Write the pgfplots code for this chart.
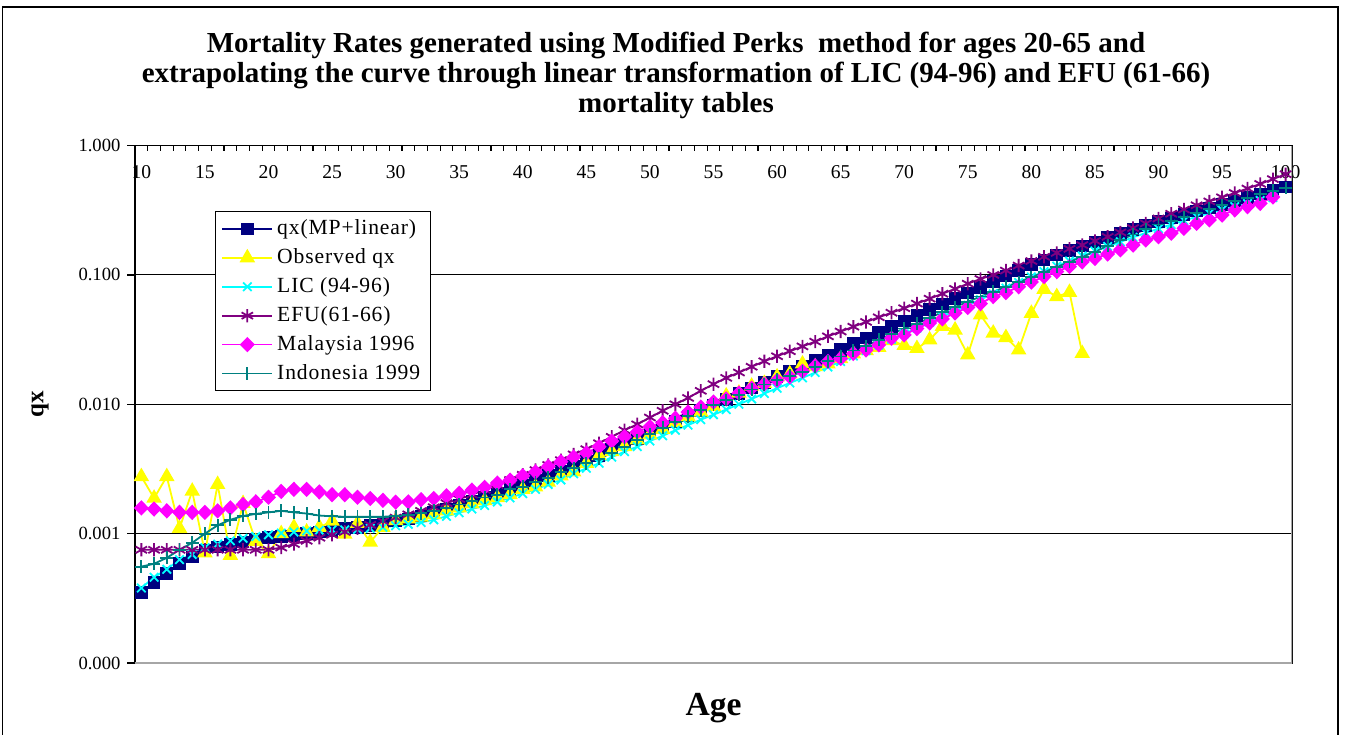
\documentclass[border=0pt]{standalone}
\usepackage{fontspec}
\setmainfont{Liberation Serif}
\newfontfamily\legfont{Liberation Serif}[LetterSpace=4]
\usepackage{pgfplots}
\pgfplotsset{compat=1.18}
\usepackage{pgfplotstable}

\definecolor{mpnavy}{HTML}{000080}
\definecolor{obsyel}{HTML}{FFFF00}
\definecolor{liccyan}{HTML}{00FFFF}
\definecolor{efupur}{HTML}{800080}
\definecolor{malmag}{HTML}{FF00FF}
\definecolor{indteal}{HTML}{008080}

\pgfplotstableread{
age mp obs lic efu mal ind
10 0.00035 0.00276 0.00038 0.00075 0.00158 0.000556
11 0.00042 0.00188 0.00046 0.00075 0.00155 0.000585
12 0.00049 0.00276 0.00053 0.00075 0.00150 0.00065
13 0.00059 0.00110 0.00063 0.00075 0.00146 0.00075
14 0.00066 0.00213 0.00069 0.00075 0.00146 0.00085
15 0.00074 0.00071 0.00078 0.00075 0.00146 0.00100
16 0.00079 0.00240 0.00083 0.00075 0.00150 0.00116
17 0.00082 0.00068 0.00088 0.00075 0.00158 0.00128
18 0.00086 0.00171 0.00092 0.00075 0.00168 0.00137
19 0.00090 0.00087 0.00095 0.00075 0.00176 0.00142
20 0.00093 0.00070 0.00098 0.00075 0.00191 0.00146
21 0.00095 0.00100 0.00101 0.00078 0.00212 0.00150
22 0.00097 0.00112 0.00103 0.00083 0.00220 0.00146
23 0.00100 0.00103 0.00105 0.00088 0.00220 0.00143
24 0.00103 0.00112 0.00106 0.00093 0.00210 0.00138
25 0.00106 0.00125 0.00107 0.00098 0.00200 0.00136
26 0.00109 0.00099 0.00107 0.00103 0.00200 0.00135
27 0.00112 0.00120 0.00108 0.00110 0.00191 0.00135
28 0.00116 0.00086 0.00110 0.00117 0.00187 0.00135
29 0.00120 0.00112 0.00112 0.00125 0.00181 0.00135
30 0.00125 0.00126 0.00115 0.00133 0.00175 0.00137
31 0.00130 0.00130 0.00118 0.00141 0.00176 0.00140
32 0.00137 0.00134 0.00122 0.00150 0.00183 0.00144
33 0.00145 0.00140 0.00128 0.00160 0.00187 0.00150
34 0.00155 0.00150 0.00136 0.00172 0.00196 0.00158
35 0.00165 0.00158 0.00145 0.00185 0.00205 0.00168
36 0.00177 0.00170 0.00155 0.00200 0.00217 0.00178
37 0.00190 0.00180 0.00165 0.00218 0.00228 0.00190
38 0.00205 0.00190 0.00176 0.00238 0.00246 0.00200
39 0.00220 0.00200 0.00189 0.00260 0.00259 0.00220
40 0.00238 0.00220 0.00204 0.00285 0.00280 0.00230
41 0.00258 0.00230 0.00220 0.00310 0.00300 0.00250
42 0.00280 0.00250 0.00240 0.00340 0.00330 0.00270
43 0.00304 0.00280 0.00260 0.00370 0.00360 0.00300
44 0.00330 0.00300 0.00290 0.00410 0.00390 0.00320
45 0.00365 0.00350 0.00320 0.00450 0.00420 0.00350
46 0.00403 0.00400 0.00350 0.00500 0.00470 0.00380
47 0.00445 0.00430 0.00390 0.00560 0.00520 0.00420
48 0.00492 0.00470 0.00430 0.00630 0.00560 0.00470
49 0.00544 0.00530 0.00470 0.00700 0.00610 0.00530
50 0.00601 0.00580 0.00520 0.00790 0.00670 0.00590
51 0.00664 0.00640 0.00570 0.00890 0.00720 0.00660
52 0.00734 0.00720 0.00630 0.01000 0.00780 0.00730
53 0.00811 0.00800 0.00690 0.01120 0.00870 0.00810
54 0.00896 0.00870 0.00760 0.01270 0.00950 0.00900
55 0.00990 0.00960 0.00830 0.01430 0.01040 0.00990
56 0.01094 0.01160 0.00910 0.01600 0.01100 0.01080
57 0.01209 0.01220 0.01000 0.01760 0.01220 0.01180
58 0.01336 0.01380 0.01100 0.01950 0.01330 0.01300
59 0.01476 0.01450 0.01210 0.02150 0.01430 0.01420
60 0.01631 0.01630 0.01330 0.02350 0.01530 0.01550
61 0.01790 0.01720 0.01460 0.02570 0.01630 0.01660
62 0.01970 0.02050 0.01600 0.02800 0.01800 0.01780
63 0.02170 0.01950 0.01760 0.03050 0.01980 0.01940
64 0.02400 0.02050 0.01940 0.03350 0.02140 0.02150
65 0.02660 0.02250 0.02140 0.03650 0.02260 0.02340
66 0.02950 0.02450 0.02360 0.03980 0.02470 0.02600
67 0.03260 0.02600 0.02600 0.04330 0.02630 0.02820
68 0.03600 0.02750 0.02870 0.04700 0.02880 0.03150
69 0.03980 0.03100 0.03170 0.05100 0.03240 0.03500
70 0.04400 0.02850 0.03500 0.05530 0.03440 0.03850
71 0.04870 0.02700 0.03880 0.06000 0.03850 0.04200
72 0.05380 0.03150 0.04300 0.06550 0.04250 0.04650
73 0.05950 0.04000 0.04760 0.07150 0.04570 0.05150
74 0.06580 0.03750 0.05270 0.07800 0.05080 0.05650
75 0.07270 0.02410 0.05830 0.08550 0.05600 0.06200
76 0.08030 0.04900 0.06450 0.09300 0.06000 0.06800
77 0.08870 0.03550 0.07140 0.10000 0.06800 0.07400
78 0.09800 0.03280 0.07900 0.10800 0.07300 0.08100
79 0.10830 0.02630 0.08730 0.11800 0.08100 0.08800
80 0.11970 0.05050 0.09650 0.12800 0.08800 0.09600
81 0.13000 0.07740 0.10600 0.13800 0.09700 0.10500
82 0.14200 0.06800 0.11700 0.14800 0.10600 0.11500
83 0.15400 0.07330 0.12800 0.15900 0.11600 0.12600
84 0.16700 0.02470 0.14000 0.17000 0.12600 0.13800
85 0.18000 nan 0.15300 0.18300 0.13400 0.15100
86 0.19400 nan 0.16600 0.19700 0.14500 0.16800
87 0.20900 nan 0.18000 0.21300 0.15600 0.18600
88 0.22500 nan 0.19500 0.23000 0.17000 0.20500
89 0.24200 nan 0.21100 0.25000 0.18600 0.22600
90 0.26000 nan 0.22800 0.27300 0.19700 0.24500
91 0.27600 nan 0.24500 0.29700 0.21000 0.26000
92 0.29300 nan 0.26300 0.32000 0.22900 0.28000
93 0.31100 nan 0.28100 0.34500 0.25000 0.30000
94 0.33000 nan 0.30000 0.37000 0.26600 0.32400
95 0.35000 nan 0.31800 0.39800 0.29000 0.34500
96 0.37200 nan 0.33700 0.43000 0.31800 0.37000
97 0.39600 nan 0.35600 0.46500 0.33700 0.39500
98 0.42200 nan 0.37600 0.50500 0.35700 0.42000
99 0.44900 nan 0.39600 0.55000 0.40000 0.44700
100 0.47800 nan nan 0.60000 nan 0.47000
}\qxdata

\begin{document}
\begin{tikzpicture}
\path[use as bounding box] (0,0) rectangle (673bp,367.5bp);
\draw[line width=0.8bp] (1.2bp,-5bp) -- (1.2bp,364bp) -- (669bp,364bp) -- (669bp,-5bp);
\begin{axis}[
  at={(67.5bp,36bp)}, anchor=south west,
  scale only axis, width=578.5bp, height=258.75bp,
  xmin=9.5, xmax=100.5,
  ymode=log, ymin=1e-4, ymax=1,
  /pgf/number format/assume math mode=true,
  axis line style={black, line width=0.7bp},
  xtick={10,15,...,100},
  xticklabel pos=upper, xtick pos=upper,
  major x tick style={draw=none},
  minor xtick={9.5,10.5,...,100.5},
  minor x tick style={black, line width=0.6bp},
  minor tick length=2.6bp,
  xtick align=inside,
  xticklabel style={anchor=center, yshift=-13.5bp, font=\fontsize{9.8bp}{10bp}\selectfont},
  ytick={1e-4,1e-3,1e-2,1e-1,1},
  yticklabels={0.000,0.001,0.010,0.100,1.000},
  ytick pos=left, ytick align=outside,
  major tick length=3.8bp,
  major y tick style={black, line width=0.7bp},
  yminorticks=false,
  yticklabel style={font=\fontsize{9.3bp}{10bp}\selectfont},
  ymajorgrids, major grid style={black, line width=0.6bp},
  unbounded coords=jump,
  title={Mortality Rates generated using Modified Perks\ \ method for ages 20-65 and\\extrapolating the curve through linear transformation of LIC (94-96) and EFU (61-66)\\mortality tables},
  title style={at={(axis description cs:0.4676,1.113)}, anchor=center, align=center, font=\bfseries\fontsize{14.5bp}{15bp}\selectfont},
  xlabel={Age},
  xlabel style={at={(axis description cs:0.5,-0.087)}, anchor=center, font=\bfseries\fontsize{16.8bp}{18bp}\selectfont},
  ylabel={qx},
  ylabel style={at={(axis description cs:-0.082,0.5)}, anchor=center, font=\bfseries\fontsize{12.5bp}{14bp}\selectfont},
  legend style={at={(axis description cs:0.069,0.873)}, anchor=north west, draw=black, line width=0.6bp, fill=white,
    font=\legfont\fontsize{10.8bp}{12bp}\selectfont, row sep=1.5bp, inner xsep=3bp, inner ysep=2bp},
  legend cell align=left,
  legend image code/.code={\draw[mark repeat=2,mark phase=2,#1] plot coordinates {(0bp,0bp) (12.5bp,0bp) (25bp,0bp)};},
  every axis plot/.append style={line width=0.9bp, mark options={solid}},
]
\addplot[mpnavy, mark=square*, mark size=2.7bp, mark options={fill=mpnavy}] table[x=age,y=mp] {\qxdata};
\addlegendentry{qx(MP+linear)}
\addplot[obsyel, mark=triangle*, mark size=3.6bp, mark options={fill=obsyel}] table[x=age,y=obs] {\qxdata};
\addlegendentry{Observed qx}
\addplot[liccyan, mark=x, mark size=3.0bp] table[x=age,y=lic] {\qxdata};
\addlegendentry{LIC (94-96)}
\addplot[efupur, mark=asterisk, mark size=3.3bp] table[x=age,y=efu] {\qxdata};
\addlegendentry{EFU(61-66)}
\addplot[malmag, mark=diamond*, mark size=3.2bp, mark options={fill=malmag, xscale=1.3}] table[x=age,y=mal] {\qxdata};
\addlegendentry{Malaysia 1996}
\addplot[indteal, mark=+, mark size=3.2bp] table[x=age,y=ind] {\qxdata};
\addlegendentry{Indonesia 1999}
\draw[gray!70, line width=0.8bp] (rel axis cs:0,0) -- (rel axis cs:1,0) -- (rel axis cs:1,1);
\end{axis}
\end{tikzpicture}
\end{document}
